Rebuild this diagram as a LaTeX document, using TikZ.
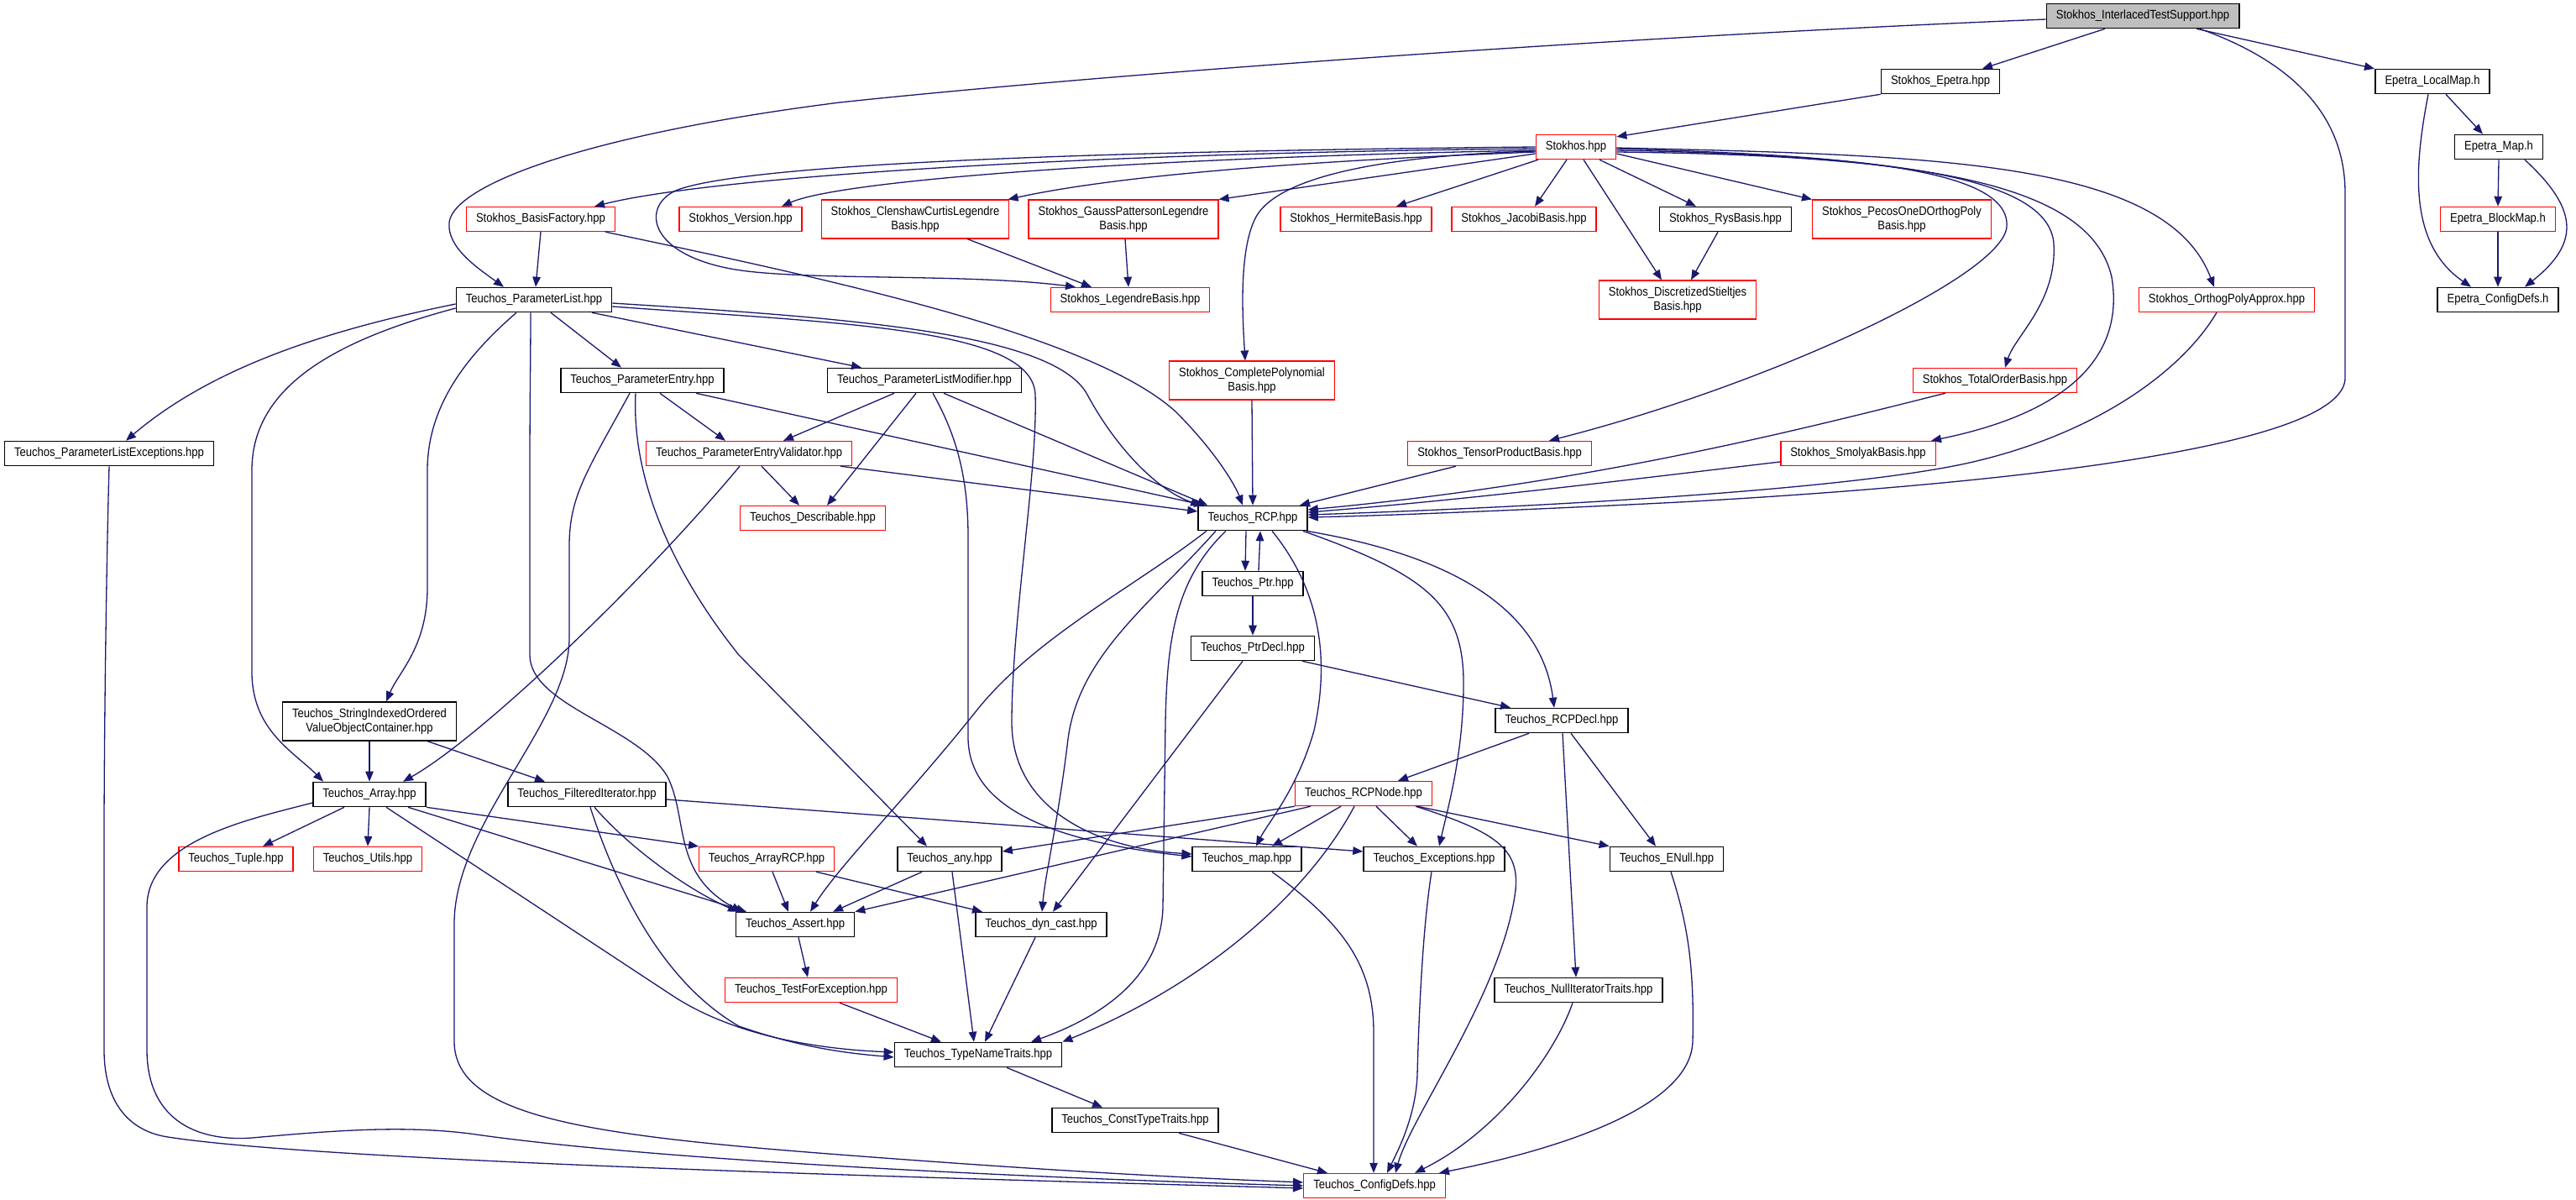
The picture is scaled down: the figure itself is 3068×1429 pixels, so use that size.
\documentclass[tikz,border=0pt]{standalone}
\usepackage{fontspec}
\newfontfamily\dfont{Liberation Sans}[FakeStretch=0.88]
\usetikzlibrary{arrows.meta}
\definecolor{edgec}{HTML}{191970}
\definecolor{nodegray}{HTML}{BFBFBF}
\begin{document}
\begin{tikzpicture}[x=1pt,y=-1pt,
 nb/.style={draw, line width=1.6pt, inner xsep=11.5pt, inner ysep=0pt, fill=white, font=\dfont\fontsize{14.8}{16.7}\selectfont},
 one/.style={nb, text height=11pt, text depth=3.6pt, minimum height=29pt},
 two/.style={nb, align=center, inner ysep=7.6pt},
 bk/.style={draw=black}, rd/.style={draw=red, line width=1.4pt},
 e/.style={draw=edgec, line width=1.3pt, -{Triangle[length=12pt,width=9.5pt]}}]
\fill[white] (0,0) rectangle (3068,1429);
\useasboundingbox (0,0) rectangle (3068,1429);
% nodes
\node[one,bk,fill=nodegray] (ints) at (2552,19) {Stokhos\_InterlacedTestSupport.hpp};
\node[one,bk] (sep) at (2311,97) {Stokhos\_Epetra.hpp};
\node[one,bk] (elm) at (2897,97) {Epetra\_LocalMap.h};
\node[one,rd] (sto) at (1877,175) {Stokhos.hpp};
\node[one,bk] (emap) at (2976,175) {Epetra\_Map.h};
\node[one,rd] (bf) at (644,261) {Stokhos\_BasisFactory.hpp};
\node[one,rd] (ver) at (882,261) {Stokhos\_Version.hpp};
\node[two,rd] (cc) at (1090,261) {Stokhos\_ClenshawCurtisLegendre\\Basis.hpp};
\node[two,rd] (gp) at (1338,261) {Stokhos\_GaussPattersonLegendre\\Basis.hpp};
\node[one,rd] (her) at (1615,261) {Stokhos\_HermiteBasis.hpp};
\node[one,rd] (jac) at (1815,261) {Stokhos\_JacobiBasis.hpp};
\node[one,bk] (rys) at (2055,261) {Stokhos\_RysBasis.hpp};
\node[two,rd] (pec) at (2265,261) {Stokhos\_PecosOneDOrthogPoly\\Basis.hpp};
\node[one,rd] (ebm) at (2975,261) {Epetra\_BlockMap.h};
\node[one,bk] (pl) at (636,357) {Teuchos\_ParameterList.hpp};
\node[one,rd] (leg) at (1346,357) {Stokhos\_LegendreBasis.hpp};
\node[two,rd] (ds) at (1998,357) {Stokhos\_DiscretizedStieltjes\\Basis.hpp};
\node[one,rd] (opa) at (2652,357) {Stokhos\_OrthogPolyApprox.hpp};
\node[one,bk] (ecd) at (2975,357) {Epetra\_ConfigDefs.h};
\node[one,bk] (pe) at (765,453) {Teuchos\_ParameterEntry.hpp};
\node[one,bk] (plm) at (1101,453) {Teuchos\_ParameterListModifier.hpp};
\node[two,rd] (cp) at (1491,453) {Stokhos\_CompletePolynomial\\Basis.hpp};
\node[one,rd] (tob) at (2376,453) {Stokhos\_TotalOrderBasis.hpp};
\node[one,bk] (ple) at (130,540) {Teuchos\_ParameterListExceptions.hpp};
\node[one,rd] (pev) at (892,540) {Teuchos\_ParameterEntryValidator.hpp};
\node[one,rd] (tpb) at (1786,540) {Stokhos\_TensorProductBasis.hpp};
\node[one,rd] (smo) at (2213,540) {Stokhos\_SmolyakBasis.hpp};
\node[one,rd] (desc) at (968,617) {Teuchos\_Describable.hpp};
\node[one,bk] (rcp) at (1492,617) {Teuchos\_RCP.hpp};
\node[one,bk] (ptr) at (1492,695) {Teuchos\_Ptr.hpp};
\node[one,bk] (ptrd) at (1492,772) {Teuchos\_PtrDecl.hpp};
\node[two,bk] (sioc) at (440,859) {Teuchos\_StringIndexedOrdered\\ValueObjectContainer.hpp};
\node[one,bk] (rcpd) at (1860,858) {Teuchos\_RCPDecl.hpp};
\node[one,bk] (arr) at (440,946) {Teuchos\_Array.hpp};
\node[one,bk] (fi) at (699,946) {Teuchos\_FilteredIterator.hpp};
\node[one,rd] (rcpn) at (1624,945) {Teuchos\_RCPNode.hpp};
\node[one,rd] (tup) at (281,1023) {Teuchos\_Tuple.hpp};
\node[one,rd] (utl) at (438,1023) {Teuchos\_Utils.hpp};
\node[one,rd] (arcp) at (913,1023) {Teuchos\_ArrayRCP.hpp};
\node[one,bk] (any) at (1131,1023) {Teuchos\_any.hpp};
\node[one,bk] (map) at (1485,1023) {Teuchos\_map.hpp};
\node[one,bk] (exc) at (1708,1023) {Teuchos\_Exceptions.hpp};
\node[one,bk] (enull) at (1985,1023) {Teuchos\_ENull.hpp};
\node[one,bk] (ass) at (947,1101) {Teuchos\_Assert.hpp};
\node[one,bk] (dyn) at (1240,1101) {Teuchos\_dyn\_cast.hpp};
\node[one,rd] (tfe) at (966,1179) {Teuchos\_TestForException.hpp};
\node[one,bk] (nit) at (1880,1179) {Teuchos\_NullIteratorTraits.hpp};
\node[one,bk] (tnt) at (1165,1256) {Teuchos\_TypeNameTraits.hpp};
\node[one,bk] (ctt) at (1352,1334) {Teuchos\_ConstTypeTraits.hpp};
\node[one,rd] (cfg) at (1637,1412) {Teuchos\_ConfigDefs.hpp};
% top edges
\draw[e] ([yshift=-4pt]ints.west) .. controls (1900,45) and (1300,90) .. (1000,122) .. controls (700,160) and (540,220) .. (535,265) .. controls (532,295) and (570,320) .. ([xshift=-36pt]pl.north);
\draw[e] ([xshift=-45pt]ints.south) -- ([xshift=50pt]sep.north);
\draw[e] ([xshift=64pt]ints.south) -- ([xshift=-69pt]elm.north);
\draw[e] ([xshift=68pt]ints.south) .. controls (2720,70) and (2793,130) .. (2793,230) -- (2793,450) .. controls (2793,520) and (2500,570) .. (2000,598) .. controls (1800,608) and (1650,614) .. ([yshift=1pt]rcp.east);
\draw[e] (sep.south west) -- ([yshift=-3pt]sto.north east);
% epetra
\draw[e] ([xshift=16pt]elm.south) -- ([xshift=-19pt]emap.north);
\draw[e] ([xshift=-5pt]elm.south) .. controls (2875,200) and (2868,290) .. ([xshift=-32pt]ecd.north);
\draw[e] (emap.south) -- (ebm.north);
\draw[e] ([xshift=31pt]emap.south) .. controls (3072,250) and (3072,290) .. ([xshift=32pt]ecd.north);
\draw[e] (ebm.south) -- (ecd.north);
% stokhos
\draw[e] ([yshift=-2pt]sto.west) .. controls (1300,182) and (850,210) .. ([xshift=64pt]bf.north);
\draw[e] ([yshift=-4pt]sto.west) .. controls (1350,188) and (1000,215) .. ([xshift=49pt]ver.north);
\draw[e] (sto.west) .. controls (1300,180) and (900,195) .. (810,225) .. controls (765,240) and (765,300) .. (870,320) .. controls (950,335) and (1150,325) .. ([xshift=-65pt]leg.north);
\draw[e] ([yshift=-6pt]sto.west) .. controls (1600,190) and (1350,205) .. ([xshift=-2pt]cc.north east);
\draw[e] ([yshift=-8pt]sto.west) -- (gp.north east);
\draw[e] ([xshift=-45pt]sto.south) -- ([xshift=48pt]her.north);
\draw[e] ([xshift=-11pt]sto.south) -- ([xshift=13pt]jac.north);
\draw[e] ([xshift=9pt]sto.south) -- ([xshift=-19pt]ds.north);
\draw[e] ([xshift=28pt]sto.south) -- ([xshift=-35pt]rys.north);
\draw[e] ([yshift=-8pt]sto.east) -- (pec.north west);
\draw[e] ([yshift=-5pt]sto.west) .. controls (1650,185) and (1520,210) .. (1495,260) .. controls (1475,300) and (1480,380) .. ([xshift=-8pt]cp.north);
\draw[e] ([yshift=-2pt]sto.east) .. controls (2200,185) and (2395,200) .. (2390,270) .. controls (2385,330) and (2100,460) .. ([xshift=59pt]tpb.north);
\draw[e] ([yshift=-4pt]sto.east) .. controls (2250,185) and (2440,210) .. (2446,290) .. controls (2450,360) and (2400,400) .. ([xshift=12pt]tob.north);
\draw[e] ([yshift=-6pt]sto.east) .. controls (2300,185) and (2490,220) .. (2515,330) .. controls (2530,420) and (2470,490) .. ([xshift=87pt]smo.north);
\draw[e] ([yshift=-1pt]sto.east) .. controls (2300,185) and (2580,190) .. ([xshift=-15pt]opa.north);
\draw[e] ([xshift=-9pt]rys.south) -- ([xshift=16pt]ds.north);
\draw[e] ([xshift=62pt]cc.south) -- ([xshift=-46pt]leg.north);
\draw[e] ([xshift=2pt]gp.south) -- ([xshift=-2pt]leg.north);
% basis factory
\draw[e] (bf.south) -- ([xshift=2pt]pl.north);
\draw[e] ([xshift=77pt]bf.south) .. controls (1000,335) and (1300,400) .. (1400,490) .. controls (1450,540) and (1472,580) .. ([xshift=-12pt]rcp.north);
% parameter list
\draw[e] ([yshift=-5pt]pl.west) .. controls (380,395) and (250,440) .. ([xshift=20pt]ple.north);
\draw[e] ([yshift=-10pt]pl.west) .. controls (400,405) and (300,460) .. (300,560) -- (300,800) .. controls (300,870) and (350,895) .. ([xshift=-55pt]arr.north);
\draw[e] ([xshift=-21pt]pl.south) .. controls (560,420) and (509,480) .. (509,560) -- (509,700) .. controls (509,770) and (475,800) .. ([xshift=20pt]sioc.north);
\draw[e] ([xshift=-4pt]pl.south) .. controls (632,420) and (631,480) .. (631,560) -- (631,780) .. controls (631,840) and (760,865) .. (795,925) .. controls (820,975) and (800,1040) .. ([xshift=-64pt]ass.north);
\draw[e] ([xshift=20pt]pl.south) -- ([xshift=-25pt]pe.north);
\draw[e] ([xshift=69pt]pl.south) -- ([xshift=-75pt]plm.north);
\draw[e] ([yshift=-4pt]pl.east) .. controls (1000,378) and (1255,395) .. (1295,470) .. controls (1330,535) and (1380,585) .. ([xshift=4pt]rcp.north west);
\draw[e] ([yshift=-8pt]pl.east) .. controls (1000,385) and (1230,390) .. (1233,470) .. controls (1236,560) and (1205,740) .. (1205,860) .. controls (1205,960) and (1300,1010) .. ([yshift=6pt]map.west);
% parameter entry
\draw[e] ([xshift=21pt]pe.south) -- ([xshift=-28pt]pev.north);
\draw[e] ([xshift=64pt]pe.south) -- ([xshift=8pt]rcp.north west);
\draw[e] ([xshift=-8pt]pe.south) .. controls (752,570) and (800,680) .. (880,780) -- ([xshift=-27pt]any.north);
\draw[e] ([xshift=-15pt]pe.south) .. controls (700,560) and (678,590) .. (678,650) -- (678,760) .. controls (678,860) and (541,980) .. (541,1100) -- (541,1240) .. controls (541,1330) and (700,1352) .. (1000,1375) .. controls (1300,1398) and (1450,1404) .. ([yshift=4pt]cfg.west);
% validator
\draw[e] ([xshift=15pt]pev.south) -- ([xshift=-16pt]desc.north);
\draw[e] ([xshift=-14pt]pev.south east) -- ([yshift=8pt]rcp.west);
\draw[e] ([xshift=-11pt]pev.south) .. controls (760,700) and (570,880) .. ([xshift=40pt]arr.north);
% modifier
\draw[e] ([xshift=-36pt]plm.south) -- ([xshift=41pt]pev.north);
\draw[e] ([xshift=-10pt]plm.south) -- ([xshift=17pt]desc.north);
\draw[e] ([xshift=23pt]plm.south) -- ([xshift=12pt]rcp.north west);
\draw[e] ([xshift=10pt]plm.south) .. controls (1140,520) and (1153,570) .. (1153,640) -- (1153,880) .. controls (1155,965) and (1260,1003) .. ([yshift=3pt]map.west);
% into RCP
\draw[e] (cp.south) -- (rcp.north);
\draw[e] ([xshift=-52pt]tpb.south) -- ([xshift=56pt]rcp.north);
\draw[e] ([xshift=-59pt]tob.south) .. controls (2150,510) and (1900,575) .. ([yshift=10pt]rcp.east);
\draw[e] ([yshift=-10pt]smo.west) .. controls (1950,570) and (1750,595) .. ([yshift=7pt]rcp.east);
\draw[e] ([xshift=-12pt]opa.south) .. controls (2600,440) and (2500,515) .. (2350,550) .. controls (2200,585) and (1800,605) .. ([yshift=4pt]rcp.east);
% RCP and Ptr
\draw[e] ([xshift=-8pt]rcp.south) -- ([xshift=-9pt]ptr.north);
\draw[e] ([xshift=7pt]ptr.north) -- ([xshift=9pt]rcp.south);
\draw[e] (ptr.south) -- (ptrd.north);
\draw[e] ([xshift=59pt]ptrd.south) -- ([xshift=-61pt]rcpd.north);
\draw[e] ([xshift=-12pt]ptrd.south) -- ([xshift=14pt]dyn.north);
\draw[e] ([xshift=-2pt]rcp.south east) .. controls (1720,660) and (1835,720) .. ([xshift=-9pt]rcpd.north);
\draw[e] ([xshift=-6pt]rcp.south east) .. controls (1700,685) and (1745,720) .. (1743,820) .. controls (1742,900) and (1725,960) .. ([xshift=6pt]exc.north);
\draw[e] ([xshift=23pt]rcp.south) .. controls (1570,700) and (1585,780) .. (1565,870) .. controls (1545,940) and (1510,980) .. ([xshift=11pt]map.north);
\draw[e] ([xshift=-55pt]rcp.south) .. controls (1350,700) and (1230,760) .. (1160,850) .. controls (1080,950) and (1000,1030) .. ([xshift=18pt]ass.north);
\draw[e] ([xshift=-44pt]rcp.south) .. controls (1370,720) and (1285,780) .. (1272,880) .. controls (1260,980) and (1245,1040) .. ([xshift=1pt]dyn.north);
\draw[e] ([xshift=-32pt]rcp.south) .. controls (1400,690) and (1390,760) .. (1388,860) -- (1385,1080) .. controls (1383,1170) and (1300,1215) .. ([xshift=63pt]tnt.north);
% RCPDecl / RCPNode
\draw[e] ([xshift=-39pt]rcpd.south) -- ([xshift=41pt]rcpn.north);
\draw[e] ([xshift=1pt]rcpd.south) -- ([xshift=-3pt]nit.north);
\draw[e] ([xshift=11pt]rcpd.south) -- ([xshift=-13pt]enull.north);
\draw[e] (rcpn.south west) -- ([yshift=9pt]any.east);
\draw[e] ([xshift=-27pt]rcpn.south) -- ([xshift=30pt]map.north);
\draw[e] ([xshift=15pt]rcpn.south) -- ([xshift=-20pt]exc.north);
\draw[e] ([xshift=64pt]rcpn.south) -- (enull.north west);
\draw[e] ([xshift=-63pt]rcpn.south) -- (ass.north east);
\draw[e] ([xshift=-11pt]rcpn.south) .. controls (1560,1060) and (1440,1170) .. (tnt.north east);
\draw[e] ([xshift=62pt]rcpn.south) .. controls (1780,990) and (1810,1010) .. (1805,1060) .. controls (1790,1180) and (1680,1330) .. ([xshift=25pt]cfg.north);
% Array etc
\draw[e] ([xshift=-30pt]arr.south) -- ([xshift=32pt]tup.north);
\draw[e] (arr.south) -- (utl.north);
\draw[e] (arr.south east) -- ([xshift=-81pt]arcp.north);
\draw[e] ([xshift=46pt]arr.south) -- ([xshift=-58pt]ass.north);
\draw[e] ([xshift=20pt]arr.south) -- (800,1185) .. controls (880,1238) and (990,1250) .. ([yshift=3pt]tnt.west);
\draw[e] ([yshift=-10pt]arr.west) .. controls (300,975) and (175,1000) .. (175,1080) -- (175,1250) .. controls (175,1330) and (230,1360) .. (300,1355) .. controls (400,1346) and (480,1340) .. (560,1350) .. controls (800,1385) and (1300,1405) .. (cfg.west);
\draw[e] (ple.south) .. controls (126,700) and (124,900) .. (124,1000) -- (124,1250) .. controls (124,1320) and (160,1348) .. (200,1354) .. controls (400,1385) and (1200,1405) .. ([yshift=-3pt]cfg.west);
\draw[e] (sioc.south) -- (arr.north);
\draw[e] ([xshift=69pt]sioc.south) -- ([xshift=-50pt]fi.north);
\draw[e] ([xshift=9pt]fi.south) .. controls (750,1010) and (820,1060) .. ([xshift=-68pt]ass.north);
\draw[e] ([xshift=4pt]fi.south) .. controls (735,1060) and (790,1170) .. (880,1222) .. controls (960,1250) and (1020,1255) .. ([yshift=-3pt]tnt.west);
\draw[e] ([yshift=-6pt]fi.east) -- ([yshift=9pt]exc.west);
\draw[e] ([xshift=7pt]arcp.south) -- ([xshift=-8pt]ass.north);
\draw[e] ([xshift=59pt]arcp.south) -- ([xshift=-70pt]dyn.north);
\draw[e] ([xshift=-33pt]any.south) -- ([xshift=45pt]ass.north);
\draw[e] ([xshift=3pt]any.south) -- ([xshift=-5pt]tnt.north);
\draw[e] ([xshift=-7pt]dyn.south) -- ([xshift=8pt]tnt.north);
\draw[e] ([xshift=4pt]ass.south) -- ([xshift=-4pt]tfe.north);
\draw[e] ([xshift=34pt]tfe.south) -- ([xshift=-44pt]tnt.north);
\draw[e] ([xshift=34pt]tnt.south) -- ([xshift=-39pt]ctt.north);
\draw[e] ([xshift=52pt]ctt.south) -- ([xshift=-56pt]cfg.north);
\draw[e] ([xshift=30pt]map.south) .. controls (1600,1100) and (1636,1150) .. (1636,1230) -- ([xshift=-1pt]cfg.north);
\draw[e] ([xshift=-3pt]exc.south) .. controls (1695,1100) and (1690,1200) .. (1688,1280) .. controls (1686,1330) and (1665,1370) .. ([xshift=15pt]cfg.north);
\draw[e] ([xshift=-7pt]nit.south) .. controls (1850,1260) and (1780,1350) .. ([xshift=48pt]cfg.north);
\draw[e] ([xshift=5pt]enull.south) .. controls (2010,1100) and (2018,1150) .. (2016,1240) .. controls (2014,1320) and (1850,1370) .. ([xshift=-8pt]cfg.north east);
\end{tikzpicture}
\end{document}
